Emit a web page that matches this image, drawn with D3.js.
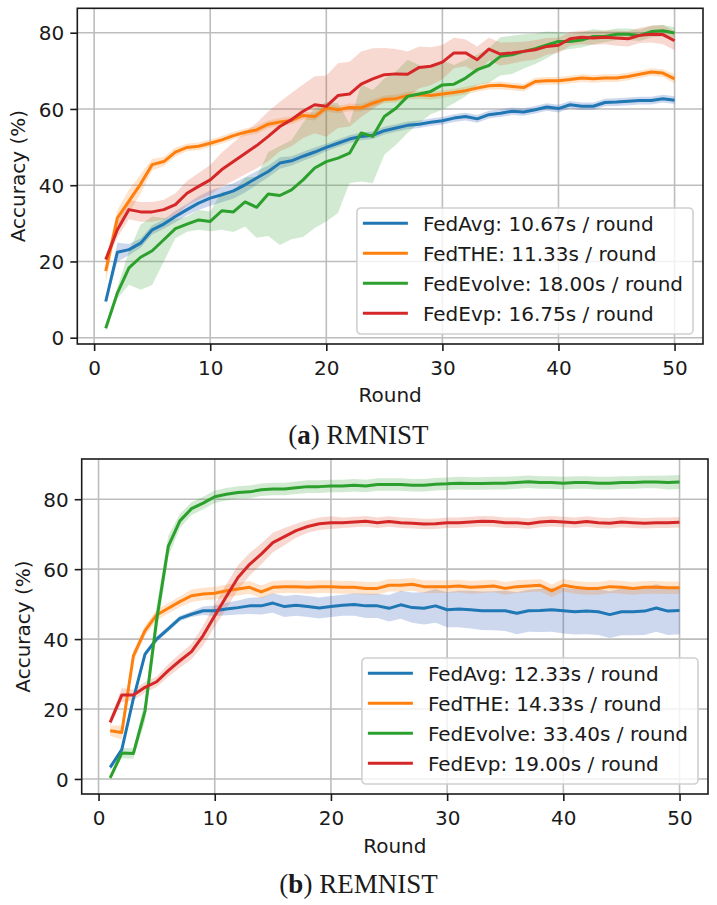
<!DOCTYPE html>
<html>
<head>
<meta charset="utf-8">
<script src="https://cdn.jsdelivr.net/npm/d3@7"></script>
<style>
  body { margin: 0; background: #fff; }
  svg text { font-family: "DejaVu Sans", sans-serif; fill: #1a1a1a; }
  .caption { font-family: "Liberation Serif", "DejaVu Serif", serif; }
</style>
</head>
<body>
<svg id="chart" width="717" height="905"></svg>
<script>
var rounds = d3.range(1, 51);
var methods = ["FedAvg", "FedTHE", "FedEvolve", "FedEvp"];
var colors = ["#1f77b4", "#ff7f0e", "#2ca02c", "#d62728"];
var bandColors = ["#2f5bb7", "#ff7f0e", "#2ca02c", "#e0502c"];
var xTicks = [0, 10, 20, 30, 40, 50];
var yTicks = [0, 20, 40, 60, 80];

// (a) RMNIST
var rmnistTimes = ["10.67s", "11.33s", "18.00s", "16.75s"];
var rmnistAvg = [9.5, 22.4, 23.1, 24.8, 28.3, 29.8, 31.8, 33.6, 35.3, 36.6, 37.5, 38.5, 40.1, 41.9, 43.6, 45.8, 46.4, 47.6, 48.7, 49.9,
  51.0, 52.1, 52.8, 53.1, 54.3, 55.0, 55.7, 56.0, 56.5, 56.9, 57.6, 58.0, 57.4, 58.5, 58.9, 59.4, 59.2, 59.8, 60.5, 60.1,
  61.1, 60.7, 60.7, 61.7, 61.8, 62.0, 62.2, 62.2, 62.7, 62.3];
var rmnistAvgStd = [0.6, 2.5, 1.5, 1.2, 1.2, 1.2, 1.5, 1.5, 1.8, 2.0, 2.0, 2.0, 2.0, 1.8, 1.5, 1.5, 1.2, 1.2, 1.2, 1.0,
  1.0, 1.0, 1.0, 1.0, 1.0, 1.0, 1.0, 1.0, 1.0, 1.0, 1.0, 1.0, 1.0, 1.0, 1.0, 1.0, 1.0, 1.0, 1.0, 1.0,
  1.0, 1.0, 1.0, 1.0, 1.0, 1.0, 1.0, 1.0, 1.0, 1.0];
var rmnistThe = [17.5, 31.4, 35.8, 40.3, 45.4, 46.2, 48.7, 49.9, 50.2, 51.0, 51.9, 53.0, 53.9, 54.5, 56.0, 56.6, 57.0, 58.3, 58.0, 60.3,
  59.8, 60.4, 60.3, 61.5, 62.5, 62.7, 63.5, 63.7, 63.5, 63.9, 64.3, 64.8, 65.5, 66.1, 66.2, 65.9, 65.6, 67.2, 67.4, 67.4,
  67.7, 68.1, 67.9, 68.1, 68.1, 68.5, 69.1, 69.7, 69.4, 67.9];
var rmnistTheStd = [3.0, 2.0, 3.0, 2.5, 1.5, 1.2, 1.2, 1.0, 1.0, 1.0, 1.0, 1.0, 1.0, 1.0, 1.0, 1.0, 1.0, 1.0, 1.0, 1.0,
  1.0, 1.0, 1.0, 1.0, 1.0, 1.0, 1.0, 1.0, 1.0, 1.0, 1.0, 1.0, 1.0, 1.0, 1.0, 1.0, 1.0, 1.0, 1.0, 1.0,
  1.0, 1.0, 1.0, 1.0, 1.0, 1.0, 1.0, 1.0, 1.0, 1.2];
var rmnistEvolve = [2.5, 11.7, 18.3, 21.1, 22.8, 25.7, 28.6, 29.8, 30.9, 30.5, 33.3, 33.0, 35.6, 34.2, 37.7, 37.3, 38.8, 41.4, 44.5, 46.2,
  47.1, 48.4, 53.7, 52.8, 58.0, 60.2, 63.3, 63.9, 64.6, 66.3, 66.5, 68.1, 70.3, 71.4, 73.8, 74.2, 75.1, 75.8, 76.8, 77.7,
  77.7, 78.1, 79.0, 79.0, 79.6, 79.6, 79.3, 80.3, 80.5, 79.9];
var rmnistEvolveStd = [0.8, 1.5, 4.4, 8.5, 9.0, 5.7, 2.5, 2.0, 2.6, 2.6, 5.0, 5.3, 6.4, 8.0, 11.0, 13.0, 13.0, 15.0, 15.7, 15.7,
  14.4, 7.8, 12.7, 12.2, 10.0, 9.6, 9.6, 7.6, 6.0, 6.5, 5.0, 4.8, 4.0, 4.5, 5.0, 5.0, 4.5, 4.0, 3.5, 2.5,
  2.0, 2.0, 2.0, 1.5, 1.5, 1.5, 1.5, 1.5, 1.5, 1.5];
var rmnistEvp = [20.5, 28.3, 33.6, 33.0, 33.0, 33.6, 34.9, 37.9, 39.7, 41.4, 44.1, 46.2, 48.3, 50.4, 52.8, 55.4, 57.2, 59.4, 61.1, 60.7,
  63.5, 63.9, 66.5, 67.9, 69.0, 69.2, 69.1, 70.9, 71.2, 72.3, 74.7, 74.7, 72.9, 75.7, 74.4, 74.7, 75.1, 75.5, 76.4, 76.7,
  78.4, 78.8, 78.6, 78.8, 78.6, 78.4, 79.3, 79.6, 79.5, 77.9];
var rmnistEvpStd = [1.0, 2.0, 2.5, 2.6, 2.6, 2.6, 3.0, 3.2, 3.5, 3.9, 4.5, 5.0, 5.5, 6.0, 6.5, 6.5, 7.0, 7.0, 7.5, 8.0,
  8.5, 8.5, 8.6, 8.0, 7.0, 6.5, 6.0, 5.5, 5.0, 4.5, 4.0, 3.5, 3.5, 3.0, 3.0, 2.8, 2.5, 2.5, 2.2, 2.0,
  1.8, 1.8, 1.8, 1.8, 2.0, 2.0, 2.0, 2.2, 2.5, 2.5];

// (b) REMNIST
var remnistTimes = ["12.33s", "14.33s", "33.40s", "19.00s"];
var remnistAvg = [3.3, 8.4, 23.0, 35.7, 40.0, 42.9, 45.9, 47.1, 48.1, 48.1, 48.6, 49.0, 49.5, 49.5, 50.3, 49.3, 49.7, 49.3, 48.9, 49.3,
  49.7, 49.9, 49.5, 49.5, 48.8, 49.8, 49.0, 48.8, 49.5, 48.4, 48.6, 48.4, 48.1, 48.1, 48.1, 47.4, 48.1, 48.2, 48.4, 48.1,
  47.8, 48.0, 47.8, 47.0, 47.8, 47.8, 48.0, 48.9, 48.0, 48.2];
var remnistAvgStd = [0.8, 0.8, 0.8, 0.8, 0.8, 0.8, 0.8, 0.8, 1.2, 1.5, 1.8, 2.0, 2.3, 2.5, 2.8, 3.0, 3.0, 3.0, 3.0, 3.0,
  3.0, 3.2, 3.5, 3.5, 3.8, 4.0, 4.3, 4.6, 4.8, 5.0, 5.2, 5.4, 5.5, 5.6, 5.8, 6.0, 6.0, 6.2, 6.3, 6.5,
  6.5, 6.6, 6.6, 6.7, 6.7, 6.7, 6.8, 6.8, 6.8, 6.8];
var remnistThe = [13.8, 13.3, 35.2, 42.4, 46.9, 48.8, 50.7, 52.4, 52.9, 53.1, 53.8, 54.3, 54.8, 53.5, 54.8, 55.0, 55.0, 54.8, 55.0, 55.0,
  54.8, 54.8, 54.5, 54.5, 55.4, 55.4, 55.7, 55.0, 55.0, 55.0, 55.2, 54.8, 55.0, 55.2, 54.5, 55.0, 55.2, 55.4, 53.8, 55.4,
  54.8, 54.5, 54.5, 55.0, 54.8, 54.5, 54.8, 54.8, 54.7, 54.7];
var remnistTheStd = [1.5, 2.0, 1.5, 1.5, 1.5, 1.5, 1.5, 1.8, 1.8, 1.8, 1.8, 1.8, 1.8, 1.8, 1.8, 1.8, 1.8, 1.8, 1.8, 1.8,
  1.8, 1.8, 1.8, 1.8, 1.8, 1.8, 1.8, 1.8, 1.8, 1.8, 1.8, 1.8, 1.8, 1.8, 1.8, 1.8, 1.8, 1.8, 1.8, 1.8,
  1.8, 1.8, 1.8, 1.8, 1.8, 1.8, 1.8, 1.8, 1.8, 1.8];
var remnistEvolve = [0.3, 7.4, 7.3, 19.5, 45.5, 66.5, 73.8, 77.3, 78.9, 80.7, 81.4, 81.9, 82.1, 82.7, 82.9, 82.9, 83.3, 83.6, 83.6, 83.8,
  83.8, 84.0, 83.8, 84.2, 84.2, 84.2, 84.0, 84.0, 84.3, 84.4, 84.6, 84.5, 84.5, 84.6, 84.6, 84.8, 85.0, 84.8, 84.8, 84.6,
  84.8, 84.8, 84.6, 84.6, 84.8, 84.8, 84.9, 84.9, 84.8, 84.9];
var remnistEvolveStd = [0.5, 1.5, 1.5, 3.0, 4.0, 3.0, 2.0, 1.8, 1.8, 1.8, 1.8, 1.8, 1.8, 1.8, 1.8, 1.8, 1.8, 1.8, 1.8, 1.8,
  1.8, 1.8, 1.8, 1.8, 1.8, 1.8, 1.8, 1.8, 1.8, 1.8, 1.8, 1.8, 1.8, 1.8, 1.8, 1.8, 1.8, 1.8, 1.8, 1.8,
  1.8, 1.8, 1.8, 1.8, 1.8, 1.8, 1.8, 1.8, 2.0, 2.0];
var remnistEvp = [16.2, 24.0, 24.0, 26.2, 27.8, 31.0, 33.8, 36.4, 41.0, 46.7, 52.2, 57.6, 61.4, 64.3, 67.6, 69.3, 71.0, 72.2, 73.0, 73.3,
  73.3, 73.5, 73.7, 73.3, 73.6, 73.3, 73.1, 72.9, 73.0, 73.3, 73.3, 73.5, 73.7, 73.6, 73.3, 73.3, 73.0, 73.5, 73.7, 73.5,
  73.3, 73.6, 73.3, 73.1, 73.5, 73.3, 73.1, 73.3, 73.3, 73.4];
var remnistEvpStd = [1.0, 2.0, 1.5, 1.5, 1.5, 1.8, 2.0, 2.2, 2.8, 3.2, 3.5, 3.5, 3.2, 3.0, 2.8, 2.5, 2.0, 1.8, 1.8, 1.8,
  1.5, 1.5, 1.5, 1.5, 1.5, 1.5, 1.5, 1.5, 1.5, 1.5, 1.5, 1.5, 1.5, 1.5, 1.5, 1.5, 1.5, 1.5, 1.5, 1.5,
  1.5, 1.5, 1.5, 1.5, 1.5, 1.5, 1.5, 1.5, 1.5, 1.5];

var svg = d3.select("#chart");

function drawPanel(p) {
    var x = d3.scaleLinear().domain([-1.45, 52.45]).range([p.left, p.right]);
    var y = d3.scaleLinear().domain(p.yDomain).range([p.bottom, p.top]);
    var g = svg.append("g");

    g.append("clipPath").attr("id", p.id + "-clip")
        .append("rect")
        .attr("x", p.left).attr("y", p.top)
        .attr("width", p.right - p.left).attr("height", p.bottom - p.top);

    // grid
    g.selectAll(".vgrid").data(xTicks).enter().append("line")
        .attr("x1", d => x(d)).attr("x2", d => x(d))
        .attr("y1", p.top).attr("y2", p.bottom)
        .style("stroke", "#bdbdbd").style("stroke-width", "1.6px");
    g.selectAll(".hgrid").data(yTicks).enter().append("line")
        .attr("x1", p.left).attr("x2", p.right)
        .attr("y1", d => y(d)).attr("y2", d => y(d))
        .style("stroke", "#bdbdbd").style("stroke-width", "1.6px");

    var plot = g.append("g").attr("clip-path", "url(#" + p.id + "-clip)");

    // std bands first
    p.series.forEach(function(s, i) {
        var area = d3.area()
            .x((d, k) => x(rounds[k]))
            .y0((d, k) => y(s.mean[k] - s.std[k]))
            .y1((d, k) => y(s.mean[k] + s.std[k]));
        plot.append("path")
            .datum(s.mean)
            .attr("d", area)
            .style("fill", bandColors[i])
            .style("opacity", i == 0 ? 0.24 : 0.22);
    });
    p.series.forEach(function(s, i) {
        plot.append("path")
            .datum(s.mean)
            .attr("d", d3.line().x((d, k) => x(rounds[k])).y(d => y(d)))
            .style("fill", "none")
            .style("stroke", colors[i])
            .style("stroke-width", "3px")
            .style("stroke-linejoin", "round");
    });

    // axes
    var xAxis = g.append("g")
        .attr("transform", "translate(0," + p.bottom + ")")
        .call(d3.axisBottom(x).tickValues(xTicks).tickSize(7).tickPadding(6));
    var yAxis = g.append("g")
        .attr("transform", "translate(" + p.left + ",0)")
        .call(d3.axisLeft(y).tickValues(yTicks).tickSize(7).tickPadding(6));
    [xAxis, yAxis].forEach(function(a) {
        a.select(".domain").remove();
        a.selectAll(".tick line").style("stroke", "#1a1a1a").style("stroke-width", "1.6px");
        a.selectAll(".tick text").style("font-size", "20px").style("fill", "#1a1a1a")
            .style("font-family", "DejaVu Sans");
    });
    xAxis.selectAll(".tick text").attr("dy", "0.9em");
    yAxis.selectAll(".tick text").attr("dy", "0.36em");

    g.append("rect")
        .attr("x", p.left).attr("y", p.top)
        .attr("width", p.right - p.left).attr("height", p.bottom - p.top)
        .style("fill", "none").style("stroke", "#1a1a1a").style("stroke-width", "1.6px");

    g.append("text")
        .attr("x", (p.left + p.right) / 2).attr("y", p.xLabelY)
        .attr("text-anchor", "middle")
        .style("font-size", "20px")
        .text("Round");
    g.append("text")
        .attr("transform", "translate(" + p.yLabelX + "," + (p.top + p.bottom) / 2 + ") rotate(-90)")
        .attr("text-anchor", "middle")
        .style("font-size", "20px")
        .text("Accuracy (%)");

    // legend, lower right
    var leg = g.append("g");
    var box = leg.append("rect").attr("rx", 4).attr("ry", 4)
        .style("fill", "#fff").style("fill-opacity", 0.8)
        .style("stroke", "#d0d0d0").style("stroke-width", "1.6px");
    var maxW = 0;
    var rows = leg.selectAll(".row").data(methods).enter().append("g");
    rows.append("line")
        .attr("x1", 6).attr("x2", 51)
        .attr("y1", (d, i) => 15.3 + i * 30).attr("y2", (d, i) => 15.3 + i * 30)
        .style("stroke", (d, i) => colors[i]).style("stroke-width", "3px");
    rows.append("text")
        .attr("x", 66).attr("y", (d, i) => 15.3 + i * 30 + 7.3)
        .style("font-size", "20px")
        .text((d, i) => d + ": " + p.times[i] + " / round")
        .each(function() { maxW = Math.max(maxW, this.getComputedTextLength()); });
    var bw = 66 + maxW + 10, bh = 126;
    box.attr("width", bw).attr("height", bh);
    leg.attr("transform", "translate(" + (p.right - 10 - bw) + "," + (p.bottom - 10 - bh) + ")");

    var cap = svg.append("text").attr("class", "caption")
        .attr("x", 358.5).attr("y", p.captionY)
        .attr("text-anchor", "middle")
        .style("font-size", "27px");
    cap.append("tspan").text("(");
    cap.append("tspan").style("font-weight", "bold").text(p.letter);
    cap.append("tspan").text(") " + p.name);
}

drawPanel({
    id: "a", left: 77.3, right: 703, top: 8.3, bottom: 344,
    yDomain: [-1.65, 86.4], xLabelY: 402, yLabelX: 25, captionY: 444,
    letter: "a", name: "RMNIST", times: rmnistTimes,
    series: [
        {mean: rmnistAvg, std: rmnistAvgStd},
        {mean: rmnistThe, std: rmnistTheStd},
        {mean: rmnistEvolve, std: rmnistEvolveStd},
        {mean: rmnistEvp, std: rmnistEvpStd}
    ]
});

drawPanel({
    id: "b", left: 81.7, right: 708, top: 459, bottom: 794,
    yDomain: [-4.3, 91.5], xLabelY: 853, yLabelX: 30, captionY: 893,
    letter: "b", name: "REMNIST", times: remnistTimes,
    series: [
        {mean: remnistAvg, std: remnistAvgStd},
        {mean: remnistThe, std: remnistTheStd},
        {mean: remnistEvolve, std: remnistEvolveStd},
        {mean: remnistEvp, std: remnistEvpStd}
    ]
});
</script>
</body>
</html>
